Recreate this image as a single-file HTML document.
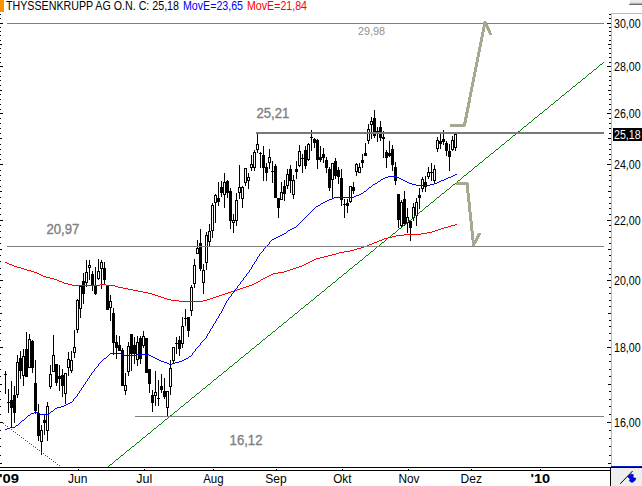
<!DOCTYPE html><html><head><meta charset="utf-8"><title>Chart</title><style>
html,body{margin:0;padding:0;background:#fff;overflow:hidden}svg{display:block}text{font-family:"Liberation Sans",sans-serif;font-size:11px}
</style></head><body>
<svg width="642" height="486" viewBox="0 0 642 486">
<rect width="642" height="486" fill="#fff"/>
<g shape-rendering="crispEdges">
<rect x="5" y="371" width="1" height="23" fill="#000"/>
<rect x="4" y="374" width="3" height="1" fill="#000"/>
<rect x="8" y="389" width="1" height="24" fill="#000"/>
<rect x="7" y="402" width="3" height="1" fill="#000"/>
<rect x="11" y="381" width="1" height="47" fill="#000"/>
<rect x="10" y="400" width="3" height="8" fill="#000"/>
<rect x="14" y="386" width="1" height="37" fill="#000"/>
<rect x="13" y="395" width="3" height="18" fill="#000"/>
<rect x="17" y="355" width="1" height="43" fill="#000"/>
<rect x="16" y="362" width="3" height="33" fill="#000"/>
<rect x="17" y="363" width="1" height="31" fill="#fff"/>
<rect x="20" y="351" width="1" height="28" fill="#000"/>
<rect x="19" y="358" width="3" height="13" fill="#000"/>
<rect x="23" y="349" width="1" height="37" fill="#000"/>
<rect x="22" y="356" width="3" height="20" fill="#000"/>
<rect x="23" y="357" width="1" height="18" fill="#fff"/>
<rect x="26" y="332" width="1" height="45" fill="#000"/>
<rect x="25" y="349" width="3" height="28" fill="#000"/>
<rect x="29" y="334" width="1" height="34" fill="#000"/>
<rect x="28" y="339" width="3" height="29" fill="#000"/>
<rect x="29" y="340" width="1" height="27" fill="#fff"/>
<rect x="32" y="340" width="1" height="33" fill="#000"/>
<rect x="31" y="341" width="3" height="27" fill="#000"/>
<rect x="35" y="360" width="1" height="54" fill="#000"/>
<rect x="34" y="383" width="3" height="28" fill="#000"/>
<rect x="38" y="404" width="1" height="37" fill="#000"/>
<rect x="37" y="413" width="3" height="23" fill="#000"/>
<rect x="41" y="425" width="1" height="30" fill="#000"/>
<rect x="40" y="430" width="3" height="12" fill="#000"/>
<rect x="41" y="431" width="1" height="10" fill="#fff"/>
<rect x="44" y="414" width="1" height="21" fill="#000"/>
<rect x="43" y="420" width="3" height="3" fill="#000"/>
<rect x="47" y="402" width="1" height="39" fill="#000"/>
<rect x="46" y="406" width="3" height="25" fill="#000"/>
<rect x="47" y="407" width="1" height="23" fill="#fff"/>
<rect x="50" y="365" width="1" height="24" fill="#000"/>
<rect x="49" y="374" width="3" height="13" fill="#000"/>
<rect x="50" y="375" width="1" height="11" fill="#fff"/>
<rect x="53" y="335" width="1" height="37" fill="#000"/>
<rect x="52" y="355" width="3" height="17" fill="#000"/>
<rect x="53" y="356" width="1" height="15" fill="#fff"/>
<rect x="56" y="364" width="1" height="22" fill="#000"/>
<rect x="55" y="364" width="3" height="19" fill="#000"/>
<rect x="59" y="365" width="1" height="26" fill="#000"/>
<rect x="58" y="376" width="3" height="3" fill="#000"/>
<rect x="62" y="369" width="1" height="28" fill="#000"/>
<rect x="61" y="375" width="3" height="11" fill="#000"/>
<rect x="65" y="373" width="1" height="31" fill="#000"/>
<rect x="64" y="373" width="3" height="21" fill="#000"/>
<rect x="65" y="374" width="1" height="19" fill="#fff"/>
<rect x="68" y="352" width="1" height="24" fill="#000"/>
<rect x="67" y="359" width="3" height="9" fill="#000"/>
<rect x="68" y="360" width="1" height="7" fill="#fff"/>
<rect x="71" y="351" width="1" height="22" fill="#000"/>
<rect x="70" y="360" width="3" height="11" fill="#000"/>
<rect x="71" y="361" width="1" height="9" fill="#fff"/>
<rect x="74" y="330" width="1" height="28" fill="#000"/>
<rect x="73" y="347" width="3" height="6" fill="#000"/>
<rect x="74" y="348" width="1" height="4" fill="#fff"/>
<rect x="77" y="299" width="1" height="34" fill="#000"/>
<rect x="76" y="300" width="3" height="30" fill="#000"/>
<rect x="77" y="301" width="1" height="28" fill="#fff"/>
<rect x="80" y="285" width="1" height="33" fill="#000"/>
<rect x="79" y="286" width="3" height="23" fill="#000"/>
<rect x="80" y="287" width="1" height="21" fill="#fff"/>
<rect x="83" y="273" width="1" height="31" fill="#000"/>
<rect x="82" y="281" width="3" height="13" fill="#000"/>
<rect x="86" y="260" width="1" height="27" fill="#000"/>
<rect x="85" y="272" width="3" height="11" fill="#000"/>
<rect x="86" y="273" width="1" height="9" fill="#fff"/>
<rect x="89" y="260" width="1" height="20" fill="#000"/>
<rect x="88" y="265" width="3" height="3" fill="#000"/>
<rect x="89" y="266" width="1" height="1" fill="#fff"/>
<rect x="92" y="271" width="1" height="20" fill="#000"/>
<rect x="91" y="274" width="3" height="12" fill="#000"/>
<rect x="95" y="267" width="1" height="28" fill="#000"/>
<rect x="94" y="286" width="3" height="8" fill="#000"/>
<rect x="98" y="259" width="1" height="21" fill="#000"/>
<rect x="97" y="271" width="3" height="8" fill="#000"/>
<rect x="98" y="272" width="1" height="6" fill="#fff"/>
<rect x="101" y="260" width="1" height="29" fill="#000"/>
<rect x="100" y="262" width="3" height="7" fill="#000"/>
<rect x="101" y="263" width="1" height="5" fill="#fff"/>
<rect x="104" y="262" width="1" height="22" fill="#000"/>
<rect x="103" y="268" width="3" height="12" fill="#000"/>
<rect x="107" y="286" width="1" height="24" fill="#000"/>
<rect x="106" y="286" width="3" height="24" fill="#000"/>
<rect x="110" y="295" width="1" height="26" fill="#000"/>
<rect x="109" y="301" width="3" height="7" fill="#000"/>
<rect x="110" y="302" width="1" height="5" fill="#fff"/>
<rect x="113" y="308" width="1" height="47" fill="#000"/>
<rect x="112" y="313" width="3" height="30" fill="#000"/>
<rect x="116" y="335" width="1" height="24" fill="#000"/>
<rect x="115" y="342" width="3" height="6" fill="#000"/>
<rect x="119" y="336" width="1" height="15" fill="#000"/>
<rect x="118" y="345" width="3" height="6" fill="#000"/>
<rect x="122" y="348" width="1" height="38" fill="#000"/>
<rect x="121" y="350" width="3" height="36" fill="#000"/>
<rect x="125" y="373" width="1" height="22" fill="#000"/>
<rect x="124" y="385" width="3" height="6" fill="#000"/>
<rect x="125" y="386" width="1" height="4" fill="#fff"/>
<rect x="128" y="342" width="1" height="34" fill="#000"/>
<rect x="127" y="346" width="3" height="26" fill="#000"/>
<rect x="128" y="347" width="1" height="24" fill="#fff"/>
<rect x="131" y="334" width="1" height="37" fill="#000"/>
<rect x="130" y="334" width="3" height="20" fill="#000"/>
<rect x="134" y="337" width="1" height="27" fill="#000"/>
<rect x="133" y="345" width="3" height="9" fill="#000"/>
<rect x="137" y="336" width="1" height="30" fill="#000"/>
<rect x="136" y="342" width="3" height="18" fill="#000"/>
<rect x="137" y="343" width="1" height="16" fill="#fff"/>
<rect x="140" y="336" width="1" height="28" fill="#000"/>
<rect x="139" y="338" width="3" height="21" fill="#000"/>
<rect x="143" y="331" width="1" height="17" fill="#000"/>
<rect x="142" y="336" width="3" height="10" fill="#000"/>
<rect x="143" y="337" width="1" height="8" fill="#fff"/>
<rect x="146" y="338" width="1" height="35" fill="#000"/>
<rect x="145" y="338" width="3" height="35" fill="#000"/>
<rect x="149" y="369" width="1" height="24" fill="#000"/>
<rect x="148" y="369" width="3" height="15" fill="#000"/>
<rect x="152" y="390" width="1" height="22" fill="#000"/>
<rect x="151" y="395" width="3" height="8" fill="#000"/>
<rect x="155" y="371" width="1" height="35" fill="#000"/>
<rect x="154" y="392" width="3" height="4" fill="#000"/>
<rect x="155" y="393" width="1" height="2" fill="#fff"/>
<rect x="158" y="380" width="1" height="26" fill="#000"/>
<rect x="157" y="398" width="3" height="1" fill="#000"/>
<rect x="161" y="374" width="1" height="19" fill="#000"/>
<rect x="160" y="386" width="3" height="4" fill="#000"/>
<rect x="164" y="378" width="1" height="21" fill="#000"/>
<rect x="163" y="391" width="3" height="6" fill="#000"/>
<rect x="167" y="391" width="1" height="26" fill="#000"/>
<rect x="166" y="391" width="3" height="17" fill="#000"/>
<rect x="167" y="392" width="1" height="15" fill="#fff"/>
<rect x="170" y="360" width="1" height="35" fill="#000"/>
<rect x="169" y="368" width="3" height="19" fill="#000"/>
<rect x="170" y="369" width="1" height="17" fill="#fff"/>
<rect x="173" y="347" width="1" height="16" fill="#000"/>
<rect x="172" y="347" width="3" height="14" fill="#000"/>
<rect x="173" y="348" width="1" height="12" fill="#fff"/>
<rect x="176" y="337" width="1" height="17" fill="#000"/>
<rect x="175" y="343" width="3" height="1" fill="#000"/>
<rect x="179" y="336" width="1" height="20" fill="#000"/>
<rect x="178" y="340" width="3" height="9" fill="#000"/>
<rect x="182" y="317" width="1" height="31" fill="#000"/>
<rect x="181" y="326" width="3" height="18" fill="#000"/>
<rect x="182" y="327" width="1" height="16" fill="#fff"/>
<rect x="185" y="309" width="1" height="17" fill="#000"/>
<rect x="184" y="318" width="3" height="1" fill="#000"/>
<rect x="188" y="317" width="1" height="20" fill="#000"/>
<rect x="187" y="317" width="3" height="14" fill="#000"/>
<rect x="191" y="285" width="1" height="31" fill="#000"/>
<rect x="190" y="287" width="3" height="24" fill="#000"/>
<rect x="191" y="288" width="1" height="22" fill="#fff"/>
<rect x="194" y="259" width="1" height="29" fill="#000"/>
<rect x="193" y="265" width="3" height="19" fill="#000"/>
<rect x="194" y="266" width="1" height="17" fill="#fff"/>
<rect x="197" y="240" width="1" height="14" fill="#000"/>
<rect x="196" y="248" width="3" height="6" fill="#000"/>
<rect x="197" y="249" width="1" height="4" fill="#fff"/>
<rect x="200" y="229" width="1" height="42" fill="#000"/>
<rect x="199" y="243" width="3" height="26" fill="#000"/>
<rect x="203" y="264" width="1" height="30" fill="#000"/>
<rect x="202" y="270" width="3" height="13" fill="#000"/>
<rect x="203" y="271" width="1" height="11" fill="#fff"/>
<rect x="206" y="232" width="1" height="38" fill="#000"/>
<rect x="205" y="235" width="3" height="28" fill="#000"/>
<rect x="206" y="236" width="1" height="26" fill="#fff"/>
<rect x="209" y="224" width="1" height="22" fill="#000"/>
<rect x="208" y="231" width="3" height="11" fill="#000"/>
<rect x="209" y="232" width="1" height="9" fill="#fff"/>
<rect x="212" y="203" width="1" height="35" fill="#000"/>
<rect x="211" y="205" width="3" height="26" fill="#000"/>
<rect x="212" y="206" width="1" height="24" fill="#fff"/>
<rect x="215" y="194" width="1" height="29" fill="#000"/>
<rect x="214" y="195" width="3" height="8" fill="#000"/>
<rect x="215" y="196" width="1" height="6" fill="#fff"/>
<rect x="218" y="182" width="1" height="24" fill="#000"/>
<rect x="217" y="198" width="3" height="4" fill="#000"/>
<rect x="221" y="181" width="1" height="16" fill="#000"/>
<rect x="220" y="187" width="3" height="6" fill="#000"/>
<rect x="224" y="173" width="1" height="35" fill="#000"/>
<rect x="223" y="182" width="3" height="13" fill="#000"/>
<rect x="224" y="183" width="1" height="11" fill="#fff"/>
<rect x="227" y="180" width="1" height="18" fill="#000"/>
<rect x="226" y="181" width="3" height="12" fill="#000"/>
<rect x="230" y="188" width="1" height="41" fill="#000"/>
<rect x="229" y="191" width="3" height="30" fill="#000"/>
<rect x="233" y="214" width="1" height="19" fill="#000"/>
<rect x="232" y="220" width="3" height="3" fill="#000"/>
<rect x="233" y="221" width="1" height="1" fill="#fff"/>
<rect x="236" y="193" width="1" height="33" fill="#000"/>
<rect x="235" y="200" width="3" height="21" fill="#000"/>
<rect x="236" y="201" width="1" height="19" fill="#fff"/>
<rect x="239" y="165" width="1" height="34" fill="#000"/>
<rect x="238" y="187" width="3" height="6" fill="#000"/>
<rect x="239" y="188" width="1" height="4" fill="#fff"/>
<rect x="242" y="186" width="1" height="22" fill="#000"/>
<rect x="241" y="187" width="3" height="12" fill="#000"/>
<rect x="242" y="188" width="1" height="10" fill="#fff"/>
<rect x="245" y="168" width="1" height="18" fill="#000"/>
<rect x="244" y="168" width="3" height="15" fill="#000"/>
<rect x="245" y="169" width="1" height="13" fill="#fff"/>
<rect x="248" y="173" width="1" height="16" fill="#000"/>
<rect x="247" y="177" width="3" height="4" fill="#000"/>
<rect x="248" y="178" width="1" height="2" fill="#fff"/>
<rect x="251" y="155" width="1" height="16" fill="#000"/>
<rect x="250" y="164" width="3" height="4" fill="#000"/>
<rect x="251" y="165" width="1" height="2" fill="#fff"/>
<rect x="254" y="150" width="1" height="21" fill="#000"/>
<rect x="253" y="152" width="3" height="16" fill="#000"/>
<rect x="254" y="153" width="1" height="14" fill="#fff"/>
<rect x="257" y="133" width="1" height="20" fill="#000"/>
<rect x="256" y="144" width="3" height="6" fill="#000"/>
<rect x="257" y="145" width="1" height="4" fill="#fff"/>
<rect x="260" y="152" width="1" height="16" fill="#000"/>
<rect x="259" y="153" width="3" height="1" fill="#000"/>
<rect x="263" y="146" width="1" height="35" fill="#000"/>
<rect x="262" y="155" width="3" height="13" fill="#000"/>
<rect x="266" y="163" width="1" height="18" fill="#000"/>
<rect x="265" y="167" width="3" height="6" fill="#000"/>
<rect x="269" y="149" width="1" height="20" fill="#000"/>
<rect x="268" y="157" width="3" height="6" fill="#000"/>
<rect x="269" y="158" width="1" height="4" fill="#fff"/>
<rect x="272" y="161" width="1" height="22" fill="#000"/>
<rect x="271" y="171" width="3" height="1" fill="#000"/>
<rect x="275" y="164" width="1" height="34" fill="#000"/>
<rect x="274" y="166" width="3" height="32" fill="#000"/>
<rect x="278" y="198" width="1" height="20" fill="#000"/>
<rect x="277" y="198" width="3" height="10" fill="#000"/>
<rect x="281" y="182" width="1" height="18" fill="#000"/>
<rect x="280" y="192" width="3" height="8" fill="#000"/>
<rect x="281" y="193" width="1" height="6" fill="#fff"/>
<rect x="284" y="180" width="1" height="21" fill="#000"/>
<rect x="283" y="186" width="3" height="8" fill="#000"/>
<rect x="287" y="169" width="1" height="20" fill="#000"/>
<rect x="286" y="174" width="3" height="12" fill="#000"/>
<rect x="287" y="175" width="1" height="10" fill="#fff"/>
<rect x="290" y="165" width="1" height="28" fill="#000"/>
<rect x="289" y="169" width="3" height="12" fill="#000"/>
<rect x="293" y="175" width="1" height="24" fill="#000"/>
<rect x="292" y="180" width="3" height="15" fill="#000"/>
<rect x="293" y="181" width="1" height="13" fill="#fff"/>
<rect x="296" y="161" width="1" height="18" fill="#000"/>
<rect x="295" y="169" width="3" height="3" fill="#000"/>
<rect x="299" y="145" width="1" height="22" fill="#000"/>
<rect x="298" y="151" width="3" height="15" fill="#000"/>
<rect x="299" y="152" width="1" height="13" fill="#fff"/>
<rect x="302" y="154" width="1" height="19" fill="#000"/>
<rect x="301" y="158" width="3" height="1" fill="#000"/>
<rect x="305" y="146" width="1" height="23" fill="#000"/>
<rect x="304" y="150" width="3" height="16" fill="#000"/>
<rect x="308" y="143" width="1" height="18" fill="#000"/>
<rect x="307" y="144" width="3" height="16" fill="#000"/>
<rect x="308" y="145" width="1" height="14" fill="#fff"/>
<rect x="311" y="130" width="1" height="21" fill="#000"/>
<rect x="310" y="137" width="3" height="1" fill="#000"/>
<rect x="314" y="138" width="1" height="10" fill="#000"/>
<rect x="313" y="139" width="3" height="4" fill="#000"/>
<rect x="317" y="139" width="1" height="30" fill="#000"/>
<rect x="316" y="140" width="3" height="20" fill="#000"/>
<rect x="320" y="146" width="1" height="16" fill="#000"/>
<rect x="319" y="157" width="3" height="3" fill="#000"/>
<rect x="323" y="148" width="1" height="15" fill="#000"/>
<rect x="322" y="154" width="3" height="4" fill="#000"/>
<rect x="326" y="157" width="1" height="16" fill="#000"/>
<rect x="325" y="160" width="3" height="8" fill="#000"/>
<rect x="329" y="167" width="1" height="24" fill="#000"/>
<rect x="328" y="169" width="3" height="19" fill="#000"/>
<rect x="332" y="163" width="1" height="35" fill="#000"/>
<rect x="331" y="163" width="3" height="17" fill="#000"/>
<rect x="332" y="164" width="1" height="15" fill="#fff"/>
<rect x="335" y="158" width="1" height="21" fill="#000"/>
<rect x="334" y="161" width="3" height="15" fill="#000"/>
<rect x="338" y="167" width="1" height="17" fill="#000"/>
<rect x="337" y="170" width="3" height="7" fill="#000"/>
<rect x="341" y="169" width="1" height="37" fill="#000"/>
<rect x="340" y="178" width="3" height="22" fill="#000"/>
<rect x="344" y="199" width="1" height="19" fill="#000"/>
<rect x="343" y="204" width="3" height="1" fill="#000"/>
<rect x="347" y="199" width="1" height="14" fill="#000"/>
<rect x="346" y="203" width="3" height="3" fill="#000"/>
<rect x="350" y="186" width="1" height="17" fill="#000"/>
<rect x="349" y="186" width="3" height="16" fill="#000"/>
<rect x="350" y="187" width="1" height="14" fill="#fff"/>
<rect x="353" y="182" width="1" height="12" fill="#000"/>
<rect x="352" y="187" width="3" height="4" fill="#000"/>
<rect x="356" y="163" width="1" height="13" fill="#000"/>
<rect x="355" y="164" width="3" height="8" fill="#000"/>
<rect x="356" y="165" width="1" height="6" fill="#fff"/>
<rect x="359" y="163" width="1" height="10" fill="#000"/>
<rect x="358" y="167" width="3" height="6" fill="#000"/>
<rect x="359" y="168" width="1" height="4" fill="#fff"/>
<rect x="362" y="154" width="1" height="14" fill="#000"/>
<rect x="361" y="160" width="3" height="3" fill="#000"/>
<rect x="365" y="143" width="1" height="13" fill="#000"/>
<rect x="364" y="153" width="3" height="3" fill="#000"/>
<rect x="368" y="124" width="1" height="20" fill="#000"/>
<rect x="367" y="129" width="3" height="12" fill="#000"/>
<rect x="368" y="130" width="1" height="10" fill="#fff"/>
<rect x="371" y="117" width="1" height="22" fill="#000"/>
<rect x="370" y="121" width="3" height="4" fill="#000"/>
<rect x="371" y="122" width="1" height="2" fill="#fff"/>
<rect x="374" y="110" width="1" height="28" fill="#000"/>
<rect x="373" y="118" width="3" height="18" fill="#000"/>
<rect x="377" y="127" width="1" height="15" fill="#000"/>
<rect x="376" y="131" width="3" height="1" fill="#000"/>
<rect x="380" y="121" width="1" height="20" fill="#000"/>
<rect x="379" y="127" width="3" height="11" fill="#000"/>
<rect x="383" y="131" width="1" height="27" fill="#000"/>
<rect x="382" y="137" width="3" height="2" fill="#000"/>
<rect x="386" y="150" width="1" height="18" fill="#000"/>
<rect x="385" y="152" width="3" height="6" fill="#000"/>
<rect x="389" y="141" width="1" height="16" fill="#000"/>
<rect x="388" y="153" width="3" height="3" fill="#000"/>
<rect x="392" y="145" width="1" height="26" fill="#000"/>
<rect x="391" y="149" width="3" height="16" fill="#000"/>
<rect x="395" y="162" width="1" height="23" fill="#000"/>
<rect x="394" y="167" width="3" height="14" fill="#000"/>
<rect x="398" y="194" width="1" height="34" fill="#000"/>
<rect x="397" y="194" width="3" height="26" fill="#000"/>
<rect x="401" y="200" width="1" height="28" fill="#000"/>
<rect x="400" y="202" width="3" height="24" fill="#000"/>
<rect x="401" y="203" width="1" height="22" fill="#fff"/>
<rect x="404" y="191" width="1" height="35" fill="#000"/>
<rect x="403" y="199" width="3" height="25" fill="#000"/>
<rect x="407" y="208" width="1" height="25" fill="#000"/>
<rect x="406" y="217" width="3" height="6" fill="#000"/>
<rect x="407" y="218" width="1" height="4" fill="#fff"/>
<rect x="410" y="220" width="1" height="21" fill="#000"/>
<rect x="409" y="221" width="3" height="7" fill="#000"/>
<rect x="413" y="203" width="1" height="18" fill="#000"/>
<rect x="412" y="207" width="3" height="11" fill="#000"/>
<rect x="413" y="208" width="1" height="9" fill="#fff"/>
<rect x="416" y="198" width="1" height="28" fill="#000"/>
<rect x="415" y="202" width="3" height="14" fill="#000"/>
<rect x="416" y="203" width="1" height="12" fill="#fff"/>
<rect x="419" y="188" width="1" height="21" fill="#000"/>
<rect x="418" y="195" width="3" height="3" fill="#000"/>
<rect x="422" y="177" width="1" height="15" fill="#000"/>
<rect x="421" y="179" width="3" height="10" fill="#000"/>
<rect x="422" y="180" width="1" height="8" fill="#fff"/>
<rect x="425" y="176" width="1" height="16" fill="#000"/>
<rect x="424" y="182" width="3" height="5" fill="#000"/>
<rect x="428" y="167" width="1" height="12" fill="#000"/>
<rect x="427" y="172" width="3" height="5" fill="#000"/>
<rect x="428" y="173" width="1" height="3" fill="#fff"/>
<rect x="431" y="163" width="1" height="18" fill="#000"/>
<rect x="430" y="172" width="3" height="1" fill="#000"/>
<rect x="434" y="165" width="1" height="19" fill="#000"/>
<rect x="433" y="169" width="3" height="12" fill="#000"/>
<rect x="434" y="170" width="1" height="10" fill="#fff"/>
<rect x="437" y="137" width="1" height="15" fill="#000"/>
<rect x="436" y="140" width="3" height="9" fill="#000"/>
<rect x="437" y="141" width="1" height="7" fill="#fff"/>
<rect x="440" y="133" width="1" height="16" fill="#000"/>
<rect x="439" y="141" width="3" height="3" fill="#000"/>
<rect x="443" y="130" width="1" height="15" fill="#000"/>
<rect x="442" y="139" width="3" height="3" fill="#000"/>
<rect x="446" y="141" width="1" height="15" fill="#000"/>
<rect x="445" y="143" width="3" height="8" fill="#000"/>
<rect x="449" y="144" width="1" height="27" fill="#000"/>
<rect x="448" y="151" width="3" height="6" fill="#000"/>
<rect x="452" y="136" width="1" height="15" fill="#000"/>
<rect x="451" y="140" width="3" height="10" fill="#000"/>
<rect x="452" y="141" width="1" height="8" fill="#fff"/>
<rect x="455" y="134" width="1" height="17" fill="#000"/>
<rect x="454" y="134" width="3" height="14" fill="#000"/>
<rect x="455" y="135" width="1" height="12" fill="#fff"/>
</g>
<path shape-rendering="crispEdges" fill="#ff0000" d="M455 224h2v1h-2zM451 225h4v1h-4zM448 226h3v1h-3zM444 227h4v1h-4zM441 228h3v1h-3zM438 229h3v1h-3zM435 230h3v1h-3zM432 231h3v1h-3zM427 232h5v1h-5zM421 233h6v1h-6zM404 234h17v1h-17zM396 235h8v1h-8zM392 236h4v1h-4zM388 237h4v1h-4zM384 238h4v1h-4zM382 239h2v1h-2zM379 240h3v1h-3zM377 241h2v1h-2zM374 242h3v1h-3zM372 243h2v1h-2zM369 244h3v1h-3zM367 245h2v1h-2zM364 246h3v1h-3zM361 247h3v1h-3zM357 248h4v1h-4zM354 249h3v1h-3zM350 250h4v1h-4zM344 251h6v1h-6zM339 252h5v1h-5zM336 253h3v1h-3zM332 254h4v1h-4zM328 255h4v1h-4zM324 256h4v1h-4zM320 257h4v1h-4zM316 258h4v1h-4zM314 259h2v1h-2zM312 260h2v1h-2zM310 261h2v1h-2zM5 262h2v1h-2zM308 262h2v1h-2zM7 263h2v1h-2zM306 263h2v1h-2zM9 264h3v1h-3zM304 264h2v1h-2zM12 265h2v1h-2zM302 265h2v1h-2zM14 266h3v1h-3zM299 266h3v1h-3zM17 267h4v1h-4zM296 267h3v1h-3zM21 268h3v1h-3zM293 268h3v1h-3zM24 269h3v1h-3zM290 269h3v1h-3zM27 270h4v1h-4zM287 270h3v1h-3zM31 271h3v1h-3zM284 271h3v1h-3zM34 272h3v1h-3zM278 272h6v1h-6zM37 273h2v1h-2zM273 273h5v1h-5zM39 274h2v1h-2zM271 274h2v1h-2zM41 275h2v1h-2zM269 275h2v1h-2zM43 276h3v1h-3zM267 276h2v1h-2zM46 277h4v1h-4zM265 277h2v1h-2zM50 278h4v1h-4zM263 278h2v1h-2zM54 279h3v1h-3zM261 279h2v1h-2zM57 280h2v1h-2zM260 280h1v1h-1zM59 281h3v1h-3zM258 281h2v1h-2zM62 282h2v1h-2zM256 282h2v1h-2zM64 283h4v1h-4zM254 283h2v1h-2zM68 284h4v1h-4zM100 284h6v1h-6zM252 284h2v1h-2zM72 285h28v1h-28zM106 285h9v1h-9zM249 285h3v1h-3zM115 286h3v1h-3zM246 286h3v1h-3zM118 287h5v1h-5zM243 287h3v1h-3zM123 288h5v1h-5zM240 288h3v1h-3zM128 289h5v1h-5zM237 289h3v1h-3zM133 290h5v1h-5zM234 290h3v1h-3zM138 291h5v1h-5zM231 291h3v1h-3zM143 292h5v1h-5zM228 292h3v1h-3zM148 293h4v1h-4zM225 293h3v1h-3zM152 294h3v1h-3zM222 294h3v1h-3zM155 295h3v1h-3zM219 295h3v1h-3zM158 296h3v1h-3zM216 296h3v1h-3zM161 297h3v1h-3zM213 297h3v1h-3zM164 298h3v1h-3zM210 298h3v1h-3zM167 299h4v1h-4zM207 299h3v1h-3zM171 300h8v1h-8zM203 300h4v1h-4zM179 301h24v1h-24z"/>
<path shape-rendering="crispEdges" fill="#0000ff" d="M455 174h2v1h-2zM453 175h2v1h-2zM388 176h9v1h-9zM451 176h2v1h-2zM385 177h3v1h-3zM397 177h2v1h-2zM448 177h3v1h-3zM383 178h2v1h-2zM399 178h2v1h-2zM446 178h2v1h-2zM381 179h2v1h-2zM401 179h2v1h-2zM444 179h2v1h-2zM380 180h1v1h-1zM403 180h2v1h-2zM441 180h3v1h-3zM378 181h2v1h-2zM405 181h2v1h-2zM439 181h2v1h-2zM377 182h1v1h-1zM407 182h2v1h-2zM437 182h2v1h-2zM375 183h2v1h-2zM409 183h3v1h-3zM434 183h3v1h-3zM373 184h2v1h-2zM412 184h4v1h-4zM430 184h4v1h-4zM372 185h1v1h-1zM416 185h14v1h-14zM371 186h1v1h-1zM369 187h2v1h-2zM368 188h1v1h-1zM367 189h1v1h-1zM366 190h1v1h-1zM364 191h2v1h-2zM363 192h1v1h-1zM361 193h2v1h-2zM359 194h2v1h-2zM356 195h3v1h-3zM354 196h2v1h-2zM334 197h20v1h-20zM332 198h2v1h-2zM329 199h3v1h-3zM327 200h2v1h-2zM325 201h2v1h-2zM323 202h2v1h-2zM321 203h2v1h-2zM320 204h1v1h-1zM318 205h2v1h-2zM316 206h2v1h-2zM315 207h1v1h-1zM314 208h1v1h-1zM313 209h1v1h-1zM312 210h1v1h-1zM311 211h1v1h-1zM310 212h1v1h-1zM309 213h1v1h-1zM308 214h1v1h-1zM307 215h1v1h-1zM306 216h1v1h-1zM305 217h1v1h-1zM304 218h1v1h-1zM303 219h1v1h-1zM302 220h1v1h-1zM301 221h1v1h-1zM300 222h1v1h-1zM299 223h1v1h-1zM298 224h1v1h-1zM297 225h1v1h-1zM296 226h1v1h-1zM294 227h2v1h-2zM292 228h2v1h-2zM290 229h2v1h-2zM288 230h2v1h-2zM287 231h1v1h-1zM286 232h1v1h-1zM284 233h2v1h-2zM282 234h2v1h-2zM280 235h2v1h-2zM278 236h2v1h-2zM276 237h2v1h-2zM274 238h2v1h-2zM272 239h2v1h-2zM271 240h1v1h-1zM270 241h1v1h-1zM269 242h1v1h-1zM269 243h1v1h-1zM268 244h1v1h-1zM267 245h1v1h-1zM266 246h1v1h-1zM265 247h1v1h-1zM264 248h1v1h-1zM263 249h1v1h-1zM263 250h1v1h-1zM262 251h1v1h-1zM261 252h1v1h-1zM260 253h1v1h-1zM259 254h1v1h-1zM259 255h1v1h-1zM258 256h1v1h-1zM257 257h1v1h-1zM257 258h1v1h-1zM256 259h1v1h-1zM256 260h1v1h-1zM255 261h1v1h-1zM254 262h1v1h-1zM254 263h1v1h-1zM253 264h1v1h-1zM252 265h1v1h-1zM252 266h1v1h-1zM251 267h1v1h-1zM251 268h1v1h-1zM250 269h1v1h-1zM249 270h1v1h-1zM249 271h1v1h-1zM248 272h1v1h-1zM247 273h1v1h-1zM246 274h1v1h-1zM246 275h1v1h-1zM245 276h1v1h-1zM244 277h1v1h-1zM243 278h1v1h-1zM243 279h1v1h-1zM242 280h1v1h-1zM241 281h1v1h-1zM240 282h1v1h-1zM240 283h1v1h-1zM239 284h1v1h-1zM238 285h1v1h-1zM237 286h1v1h-1zM237 287h1v1h-1zM236 288h1v1h-1zM235 289h1v1h-1zM234 290h1v1h-1zM234 291h1v1h-1zM233 292h1v1h-1zM232 293h1v1h-1zM231 294h1v1h-1zM231 295h1v1h-1zM230 296h1v1h-1zM229 297h1v1h-1zM228 298h1v1h-1zM228 299h1v1h-1zM227 300h1v1h-1zM226 301h1v1h-1zM226 302h1v1h-1zM225 303h1v1h-1zM225 304h1v1h-1zM224 305h1v1h-1zM224 306h1v1h-1zM223 307h1v1h-1zM223 308h1v1h-1zM222 309h1v1h-1zM222 310h1v1h-1zM221 311h1v1h-1zM221 312h1v1h-1zM220 313h1v1h-1zM219 314h1v1h-1zM219 315h1v1h-1zM218 316h1v1h-1zM218 317h1v1h-1zM217 318h1v1h-1zM216 319h1v1h-1zM216 320h1v1h-1zM215 321h1v1h-1zM215 322h1v1h-1zM214 323h1v1h-1zM213 324h1v1h-1zM213 325h1v1h-1zM212 326h1v1h-1zM212 327h1v1h-1zM211 328h1v1h-1zM210 329h1v1h-1zM210 330h1v1h-1zM209 331h1v1h-1zM209 332h1v1h-1zM208 333h1v1h-1zM207 334h1v1h-1zM207 335h1v1h-1zM206 336h1v1h-1zM206 337h1v1h-1zM205 338h1v1h-1zM204 339h1v1h-1zM203 340h1v1h-1zM202 341h1v1h-1zM201 342h1v1h-1zM200 343h1v1h-1zM200 344h1v1h-1zM199 345h1v1h-1zM198 346h1v1h-1zM197 347h1v1h-1zM196 348h1v1h-1zM195 349h1v1h-1zM195 350h1v1h-1zM194 351h1v1h-1zM193 352h1v1h-1zM110 353h11v1h-11zM192 353h1v1h-1zM109 354h1v1h-1zM121 354h2v1h-2zM137 354h12v1h-12zM192 354h1v1h-1zM108 355h1v1h-1zM123 355h14v1h-14zM149 355h2v1h-2zM191 355h1v1h-1zM107 356h1v1h-1zM151 356h2v1h-2zM189 356h2v1h-2zM106 357h1v1h-1zM153 357h2v1h-2zM188 357h1v1h-1zM104 358h2v1h-2zM155 358h2v1h-2zM186 358h2v1h-2zM103 359h1v1h-1zM157 359h2v1h-2zM184 359h2v1h-2zM102 360h1v1h-1zM159 360h2v1h-2zM182 360h2v1h-2zM101 361h1v1h-1zM161 361h3v1h-3zM179 361h3v1h-3zM100 362h1v1h-1zM164 362h3v1h-3zM175 362h4v1h-4zM99 363h1v1h-1zM167 363h2v1h-2zM172 363h3v1h-3zM98 364h1v1h-1zM169 364h3v1h-3zM98 365h1v1h-1zM97 366h1v1h-1zM96 367h1v1h-1zM95 368h1v1h-1zM94 369h1v1h-1zM94 370h1v1h-1zM93 371h1v1h-1zM92 372h1v1h-1zM91 373h1v1h-1zM91 374h1v1h-1zM90 375h1v1h-1zM89 376h1v1h-1zM89 377h1v1h-1zM88 378h1v1h-1zM87 379h1v1h-1zM87 380h1v1h-1zM86 381h1v1h-1zM85 382h1v1h-1zM85 383h1v1h-1zM84 384h1v1h-1zM83 385h1v1h-1zM83 386h1v1h-1zM82 387h1v1h-1zM81 388h1v1h-1zM81 389h1v1h-1zM80 390h1v1h-1zM79 391h1v1h-1zM79 392h1v1h-1zM78 393h1v1h-1zM77 394h1v1h-1zM77 395h1v1h-1zM76 396h1v1h-1zM75 397h1v1h-1zM74 398h1v1h-1zM73 399h1v1h-1zM73 400h1v1h-1zM72 401h1v1h-1zM70 402h2v1h-2zM68 403h2v1h-2zM66 404h2v1h-2zM64 405h2v1h-2zM61 406h3v1h-3zM57 407h4v1h-4zM55 408h2v1h-2zM54 409h1v1h-1zM53 410h1v1h-1zM51 411h2v1h-2zM34 412h4v1h-4zM50 412h1v1h-1zM31 413h3v1h-3zM38 413h2v1h-2zM49 413h1v1h-1zM30 414h1v1h-1zM40 414h9v1h-9zM28 415h2v1h-2zM27 416h1v1h-1zM26 417h1v1h-1zM25 418h1v1h-1zM24 419h1v1h-1zM22 420h2v1h-2zM21 421h1v1h-1zM20 422h1v1h-1zM19 423h1v1h-1zM18 424h1v1h-1zM16 425h2v1h-2zM15 426h1v1h-1zM10 427h5v1h-5zM7 428h3v1h-3zM5 429h2v1h-2z"/>
<path shape-rendering="crispEdges" fill="#008000" d="M603 62h1v1h-1zM602 63h1v1h-1zM600 64h2v1h-2zM599 65h1v1h-1zM598 66h1v1h-1zM597 67h1v1h-1zM596 68h1v1h-1zM594 69h2v1h-2zM593 70h1v1h-1zM592 71h1v1h-1zM591 72h1v1h-1zM589 73h2v1h-2zM588 74h1v1h-1zM587 75h1v1h-1zM586 76h1v1h-1zM585 77h1v1h-1zM583 78h2v1h-2zM582 79h1v1h-1zM581 80h1v1h-1zM580 81h1v1h-1zM578 82h2v1h-2zM577 83h1v1h-1zM576 84h1v1h-1zM575 85h1v1h-1zM573 86h2v1h-2zM572 87h1v1h-1zM571 88h1v1h-1zM570 89h1v1h-1zM569 90h1v1h-1zM567 91h2v1h-2zM566 92h1v1h-1zM565 93h1v1h-1zM564 94h1v1h-1zM562 95h2v1h-2zM561 96h1v1h-1zM560 97h1v1h-1zM559 98h1v1h-1zM558 99h1v1h-1zM556 100h2v1h-2zM555 101h1v1h-1zM554 102h1v1h-1zM553 103h1v1h-1zM551 104h2v1h-2zM550 105h1v1h-1zM549 106h1v1h-1zM548 107h1v1h-1zM547 108h1v1h-1zM545 109h2v1h-2zM544 110h1v1h-1zM543 111h1v1h-1zM542 112h1v1h-1zM540 113h2v1h-2zM539 114h1v1h-1zM538 115h1v1h-1zM537 116h1v1h-1zM535 117h2v1h-2zM534 118h1v1h-1zM533 119h1v1h-1zM532 120h1v1h-1zM531 121h1v1h-1zM529 122h2v1h-2zM528 123h1v1h-1zM527 124h1v1h-1zM526 125h1v1h-1zM524 126h2v1h-2zM523 127h1v1h-1zM522 128h1v1h-1zM521 129h1v1h-1zM520 130h1v1h-1zM518 131h2v1h-2zM517 132h1v1h-1zM516 133h1v1h-1zM515 134h1v1h-1zM513 135h2v1h-2zM512 136h1v1h-1zM511 137h1v1h-1zM510 138h1v1h-1zM509 139h1v1h-1zM507 140h2v1h-2zM506 141h1v1h-1zM505 142h1v1h-1zM504 143h1v1h-1zM502 144h2v1h-2zM501 145h1v1h-1zM500 146h1v1h-1zM499 147h1v1h-1zM498 148h1v1h-1zM496 149h2v1h-2zM495 150h1v1h-1zM494 151h1v1h-1zM493 152h1v1h-1zM491 153h2v1h-2zM490 154h1v1h-1zM489 155h1v1h-1zM488 156h1v1h-1zM486 157h2v1h-2zM485 158h1v1h-1zM484 159h1v1h-1zM483 160h1v1h-1zM482 161h1v1h-1zM480 162h2v1h-2zM479 163h1v1h-1zM478 164h1v1h-1zM477 165h1v1h-1zM475 166h2v1h-2zM474 167h1v1h-1zM473 168h1v1h-1zM472 169h1v1h-1zM471 170h1v1h-1zM469 171h2v1h-2zM468 172h1v1h-1zM467 173h1v1h-1zM466 174h1v1h-1zM464 175h2v1h-2zM463 176h1v1h-1zM462 177h1v1h-1zM461 178h1v1h-1zM460 179h1v1h-1zM458 180h2v1h-2zM457 181h1v1h-1zM456 182h1v1h-1zM455 183h1v1h-1zM453 184h2v1h-2zM452 185h1v1h-1zM451 186h1v1h-1zM450 187h1v1h-1zM449 188h1v1h-1zM447 189h2v1h-2zM446 190h1v1h-1zM445 191h1v1h-1zM444 192h1v1h-1zM442 193h2v1h-2zM441 194h1v1h-1zM440 195h1v1h-1zM439 196h1v1h-1zM437 197h2v1h-2zM436 198h1v1h-1zM435 199h1v1h-1zM434 200h1v1h-1zM433 201h1v1h-1zM431 202h2v1h-2zM430 203h1v1h-1zM429 204h1v1h-1zM428 205h1v1h-1zM426 206h2v1h-2zM425 207h1v1h-1zM424 208h1v1h-1zM423 209h1v1h-1zM422 210h1v1h-1zM420 211h2v1h-2zM419 212h1v1h-1zM418 213h1v1h-1zM417 214h1v1h-1zM415 215h2v1h-2zM414 216h1v1h-1zM413 217h1v1h-1zM412 218h1v1h-1zM411 219h1v1h-1zM409 220h2v1h-2zM408 221h1v1h-1zM407 222h1v1h-1zM406 223h1v1h-1zM404 224h2v1h-2zM403 225h1v1h-1zM402 226h1v1h-1zM401 227h1v1h-1zM399 228h2v1h-2zM398 229h1v1h-1zM397 230h1v1h-1zM396 231h1v1h-1zM395 232h1v1h-1zM393 233h2v1h-2zM392 234h1v1h-1zM391 235h1v1h-1zM390 236h1v1h-1zM388 237h2v1h-2zM387 238h1v1h-1zM386 239h1v1h-1zM385 240h1v1h-1zM384 241h1v1h-1zM382 242h2v1h-2zM381 243h1v1h-1zM380 244h1v1h-1zM379 245h1v1h-1zM377 246h2v1h-2zM376 247h1v1h-1zM375 248h1v1h-1zM374 249h1v1h-1zM373 250h1v1h-1zM371 251h2v1h-2zM370 252h1v1h-1zM369 253h1v1h-1zM368 254h1v1h-1zM366 255h2v1h-2zM365 256h1v1h-1zM364 257h1v1h-1zM363 258h1v1h-1zM362 259h1v1h-1zM360 260h2v1h-2zM359 261h1v1h-1zM358 262h1v1h-1zM357 263h1v1h-1zM355 264h2v1h-2zM354 265h1v1h-1zM353 266h1v1h-1zM352 267h1v1h-1zM350 268h2v1h-2zM349 269h1v1h-1zM348 270h1v1h-1zM347 271h1v1h-1zM346 272h1v1h-1zM344 273h2v1h-2zM343 274h1v1h-1zM342 275h1v1h-1zM341 276h1v1h-1zM339 277h2v1h-2zM338 278h1v1h-1zM337 279h1v1h-1zM336 280h1v1h-1zM335 281h1v1h-1zM333 282h2v1h-2zM332 283h1v1h-1zM331 284h1v1h-1zM330 285h1v1h-1zM328 286h2v1h-2zM327 287h1v1h-1zM326 288h1v1h-1zM325 289h1v1h-1zM324 290h1v1h-1zM322 291h2v1h-2zM321 292h1v1h-1zM320 293h1v1h-1zM319 294h1v1h-1zM317 295h2v1h-2zM316 296h1v1h-1zM315 297h1v1h-1zM314 298h1v1h-1zM313 299h1v1h-1zM311 300h2v1h-2zM310 301h1v1h-1zM309 302h1v1h-1zM308 303h1v1h-1zM306 304h2v1h-2zM305 305h1v1h-1zM304 306h1v1h-1zM303 307h1v1h-1zM301 308h2v1h-2zM300 309h1v1h-1zM299 310h1v1h-1zM298 311h1v1h-1zM297 312h1v1h-1zM295 313h2v1h-2zM294 314h1v1h-1zM293 315h1v1h-1zM292 316h1v1h-1zM290 317h2v1h-2zM289 318h1v1h-1zM288 319h1v1h-1zM287 320h1v1h-1zM286 321h1v1h-1zM284 322h2v1h-2zM283 323h1v1h-1zM282 324h1v1h-1zM281 325h1v1h-1zM279 326h2v1h-2zM278 327h1v1h-1zM277 328h1v1h-1zM276 329h1v1h-1zM275 330h1v1h-1zM273 331h2v1h-2zM272 332h1v1h-1zM271 333h1v1h-1zM270 334h1v1h-1zM268 335h2v1h-2zM267 336h1v1h-1zM266 337h1v1h-1zM265 338h1v1h-1zM263 339h2v1h-2zM262 340h1v1h-1zM261 341h1v1h-1zM260 342h1v1h-1zM259 343h1v1h-1zM257 344h2v1h-2zM256 345h1v1h-1zM255 346h1v1h-1zM254 347h1v1h-1zM252 348h2v1h-2zM251 349h1v1h-1zM250 350h1v1h-1zM249 351h1v1h-1zM248 352h1v1h-1zM246 353h2v1h-2zM245 354h1v1h-1zM244 355h1v1h-1zM243 356h1v1h-1zM241 357h2v1h-2zM240 358h1v1h-1zM239 359h1v1h-1zM238 360h1v1h-1zM237 361h1v1h-1zM235 362h2v1h-2zM234 363h1v1h-1zM233 364h1v1h-1zM232 365h1v1h-1zM230 366h2v1h-2zM229 367h1v1h-1zM228 368h1v1h-1zM227 369h1v1h-1zM226 370h1v1h-1zM224 371h2v1h-2zM223 372h1v1h-1zM222 373h1v1h-1zM221 374h1v1h-1zM219 375h2v1h-2zM218 376h1v1h-1zM217 377h1v1h-1zM216 378h1v1h-1zM214 379h2v1h-2zM213 380h1v1h-1zM212 381h1v1h-1zM211 382h1v1h-1zM210 383h1v1h-1zM208 384h2v1h-2zM207 385h1v1h-1zM206 386h1v1h-1zM205 387h1v1h-1zM203 388h2v1h-2zM202 389h1v1h-1zM201 390h1v1h-1zM200 391h1v1h-1zM199 392h1v1h-1zM197 393h2v1h-2zM196 394h1v1h-1zM195 395h1v1h-1zM194 396h1v1h-1zM192 397h2v1h-2zM191 398h1v1h-1zM190 399h1v1h-1zM189 400h1v1h-1zM188 401h1v1h-1zM186 402h2v1h-2zM185 403h1v1h-1zM184 404h1v1h-1zM183 405h1v1h-1zM181 406h2v1h-2zM180 407h1v1h-1zM179 408h1v1h-1zM178 409h1v1h-1zM177 410h1v1h-1zM175 411h2v1h-2zM174 412h1v1h-1zM173 413h1v1h-1zM172 414h1v1h-1zM170 415h2v1h-2zM169 416h1v1h-1zM168 417h1v1h-1zM167 418h1v1h-1zM165 419h2v1h-2zM164 420h1v1h-1zM163 421h1v1h-1zM162 422h1v1h-1zM161 423h1v1h-1zM159 424h2v1h-2zM158 425h1v1h-1zM157 426h1v1h-1zM156 427h1v1h-1zM154 428h2v1h-2zM153 429h1v1h-1zM152 430h1v1h-1zM151 431h1v1h-1zM150 432h1v1h-1zM148 433h2v1h-2zM147 434h1v1h-1zM146 435h1v1h-1zM145 436h1v1h-1zM143 437h2v1h-2zM142 438h1v1h-1zM141 439h1v1h-1zM140 440h1v1h-1zM139 441h1v1h-1zM137 442h2v1h-2zM136 443h1v1h-1zM135 444h1v1h-1zM134 445h1v1h-1zM132 446h2v1h-2zM131 447h1v1h-1zM130 448h1v1h-1zM129 449h1v1h-1zM127 450h2v1h-2zM126 451h1v1h-1zM125 452h1v1h-1zM124 453h1v1h-1zM123 454h1v1h-1zM121 455h2v1h-2zM120 456h1v1h-1zM119 457h1v1h-1zM118 458h1v1h-1zM116 459h2v1h-2zM115 460h1v1h-1zM114 461h1v1h-1zM113 462h1v1h-1zM112 463h1v1h-1zM110 464h2v1h-2zM109 465h1v1h-1zM108 466h1v1h-1z"/>
<g shape-rendering="crispEdges" fill="#ff0000">
<rect x="3" y="423" width="1" height="1"/>
<rect x="5" y="425" width="1" height="1"/>
<rect x="7" y="426" width="1" height="1"/>
<rect x="9" y="428" width="1" height="1"/>
<rect x="11" y="429" width="1" height="1"/>
<rect x="13" y="431" width="1" height="1"/>
<rect x="15" y="432" width="1" height="1"/>
<rect x="17" y="434" width="1" height="1"/>
<rect x="19" y="435" width="1" height="1"/>
<rect x="21" y="437" width="1" height="1"/>
<rect x="23" y="438" width="1" height="1"/>
<rect x="25" y="440" width="1" height="1"/>
<rect x="27" y="441" width="1" height="1"/>
<rect x="29" y="443" width="1" height="1"/>
<rect x="31" y="444" width="1" height="1"/>
<rect x="33" y="446" width="1" height="1"/>
<rect x="35" y="447" width="1" height="1"/>
<rect x="37" y="449" width="1" height="1"/>
<rect x="39" y="450" width="1" height="1"/>
<rect x="41" y="452" width="1" height="1"/>
<rect x="43" y="453" width="1" height="1"/>
<rect x="45" y="455" width="1" height="1"/>
<rect x="47" y="456" width="1" height="1"/>
<rect x="49" y="458" width="1" height="1"/>
<rect x="51" y="459" width="1" height="1"/>
<rect x="53" y="461" width="1" height="1"/>
<rect x="55" y="462" width="1" height="1"/>
<rect x="57" y="464" width="1" height="1"/>
<rect x="59" y="465" width="1" height="1"/>
</g>
<g shape-rendering="crispEdges">
<rect x="0" y="0" width="4" height="12" fill="#ff9000"/>
<rect x="7" y="23" width="597" height="1" fill="#808080"/>
<rect x="256" y="132" width="348" height="2" fill="#787878"/>
<rect x="7" y="246" width="597" height="1" fill="#808080"/>
<rect x="135" y="416" width="469" height="1" fill="#808080"/>
<rect x="611" y="13" width="1" height="453" fill="#f0c020"/>
<rect x="611" y="13" width="31" height="1" fill="#f0c020"/>
<rect x="608" y="463" width="3" height="1" fill="#000"/>
<rect x="0" y="463" width="2" height="1" fill="#000"/>
<rect x="609" y="455" width="2" height="1" fill="#000"/>
<rect x="0" y="455" width="1" height="1" fill="#000"/>
<rect x="609" y="446" width="2" height="1" fill="#000"/>
<rect x="0" y="446" width="1" height="1" fill="#000"/>
<rect x="609" y="438" width="2" height="1" fill="#000"/>
<rect x="0" y="438" width="1" height="1" fill="#000"/>
<rect x="609" y="430" width="2" height="1" fill="#000"/>
<rect x="0" y="430" width="1" height="1" fill="#000"/>
<rect x="607" y="422" width="4" height="1" fill="#000"/>
<rect x="0" y="422" width="3" height="1" fill="#000"/>
<rect x="609" y="414" width="2" height="1" fill="#000"/>
<rect x="0" y="414" width="1" height="1" fill="#000"/>
<rect x="609" y="406" width="2" height="1" fill="#000"/>
<rect x="0" y="406" width="1" height="1" fill="#000"/>
<rect x="609" y="399" width="2" height="1" fill="#000"/>
<rect x="0" y="399" width="1" height="1" fill="#000"/>
<rect x="609" y="391" width="2" height="1" fill="#000"/>
<rect x="0" y="391" width="1" height="1" fill="#000"/>
<rect x="608" y="384" width="3" height="1" fill="#000"/>
<rect x="0" y="384" width="2" height="1" fill="#000"/>
<rect x="609" y="376" width="2" height="1" fill="#000"/>
<rect x="0" y="376" width="1" height="1" fill="#000"/>
<rect x="609" y="369" width="2" height="1" fill="#000"/>
<rect x="0" y="369" width="1" height="1" fill="#000"/>
<rect x="609" y="361" width="2" height="1" fill="#000"/>
<rect x="0" y="361" width="1" height="1" fill="#000"/>
<rect x="609" y="354" width="2" height="1" fill="#000"/>
<rect x="0" y="354" width="1" height="1" fill="#000"/>
<rect x="607" y="347" width="4" height="1" fill="#000"/>
<rect x="0" y="347" width="3" height="1" fill="#000"/>
<rect x="609" y="340" width="2" height="1" fill="#000"/>
<rect x="0" y="340" width="1" height="1" fill="#000"/>
<rect x="609" y="333" width="2" height="1" fill="#000"/>
<rect x="0" y="333" width="1" height="1" fill="#000"/>
<rect x="609" y="326" width="2" height="1" fill="#000"/>
<rect x="0" y="326" width="1" height="1" fill="#000"/>
<rect x="609" y="320" width="2" height="1" fill="#000"/>
<rect x="0" y="320" width="1" height="1" fill="#000"/>
<rect x="608" y="313" width="3" height="1" fill="#000"/>
<rect x="0" y="313" width="2" height="1" fill="#000"/>
<rect x="609" y="306" width="2" height="1" fill="#000"/>
<rect x="0" y="306" width="1" height="1" fill="#000"/>
<rect x="609" y="300" width="2" height="1" fill="#000"/>
<rect x="0" y="300" width="1" height="1" fill="#000"/>
<rect x="609" y="293" width="2" height="1" fill="#000"/>
<rect x="0" y="293" width="1" height="1" fill="#000"/>
<rect x="609" y="287" width="2" height="1" fill="#000"/>
<rect x="0" y="287" width="1" height="1" fill="#000"/>
<rect x="607" y="280" width="4" height="1" fill="#000"/>
<rect x="0" y="280" width="3" height="1" fill="#000"/>
<rect x="609" y="274" width="2" height="1" fill="#000"/>
<rect x="0" y="274" width="1" height="1" fill="#000"/>
<rect x="609" y="268" width="2" height="1" fill="#000"/>
<rect x="0" y="268" width="1" height="1" fill="#000"/>
<rect x="609" y="261" width="2" height="1" fill="#000"/>
<rect x="0" y="261" width="1" height="1" fill="#000"/>
<rect x="609" y="255" width="2" height="1" fill="#000"/>
<rect x="0" y="255" width="1" height="1" fill="#000"/>
<rect x="608" y="249" width="3" height="1" fill="#000"/>
<rect x="0" y="249" width="2" height="1" fill="#000"/>
<rect x="609" y="243" width="2" height="1" fill="#000"/>
<rect x="0" y="243" width="1" height="1" fill="#000"/>
<rect x="609" y="237" width="2" height="1" fill="#000"/>
<rect x="0" y="237" width="1" height="1" fill="#000"/>
<rect x="609" y="231" width="2" height="1" fill="#000"/>
<rect x="0" y="231" width="1" height="1" fill="#000"/>
<rect x="609" y="225" width="2" height="1" fill="#000"/>
<rect x="0" y="225" width="1" height="1" fill="#000"/>
<rect x="607" y="220" width="4" height="1" fill="#000"/>
<rect x="0" y="220" width="3" height="1" fill="#000"/>
<rect x="609" y="214" width="2" height="1" fill="#000"/>
<rect x="0" y="214" width="1" height="1" fill="#000"/>
<rect x="609" y="208" width="2" height="1" fill="#000"/>
<rect x="0" y="208" width="1" height="1" fill="#000"/>
<rect x="609" y="203" width="2" height="1" fill="#000"/>
<rect x="0" y="203" width="1" height="1" fill="#000"/>
<rect x="609" y="197" width="2" height="1" fill="#000"/>
<rect x="0" y="197" width="1" height="1" fill="#000"/>
<rect x="608" y="191" width="3" height="1" fill="#000"/>
<rect x="0" y="191" width="2" height="1" fill="#000"/>
<rect x="609" y="186" width="2" height="1" fill="#000"/>
<rect x="0" y="186" width="1" height="1" fill="#000"/>
<rect x="609" y="180" width="2" height="1" fill="#000"/>
<rect x="0" y="180" width="1" height="1" fill="#000"/>
<rect x="609" y="175" width="2" height="1" fill="#000"/>
<rect x="0" y="175" width="1" height="1" fill="#000"/>
<rect x="609" y="170" width="2" height="1" fill="#000"/>
<rect x="0" y="170" width="1" height="1" fill="#000"/>
<rect x="607" y="164" width="4" height="1" fill="#000"/>
<rect x="0" y="164" width="3" height="1" fill="#000"/>
<rect x="609" y="159" width="2" height="1" fill="#000"/>
<rect x="0" y="159" width="1" height="1" fill="#000"/>
<rect x="609" y="154" width="2" height="1" fill="#000"/>
<rect x="0" y="154" width="1" height="1" fill="#000"/>
<rect x="609" y="149" width="2" height="1" fill="#000"/>
<rect x="0" y="149" width="1" height="1" fill="#000"/>
<rect x="609" y="144" width="2" height="1" fill="#000"/>
<rect x="0" y="144" width="1" height="1" fill="#000"/>
<rect x="608" y="138" width="3" height="1" fill="#000"/>
<rect x="0" y="138" width="2" height="1" fill="#000"/>
<rect x="609" y="133" width="2" height="1" fill="#000"/>
<rect x="0" y="133" width="1" height="1" fill="#000"/>
<rect x="609" y="128" width="2" height="1" fill="#000"/>
<rect x="0" y="128" width="1" height="1" fill="#000"/>
<rect x="609" y="123" width="2" height="1" fill="#000"/>
<rect x="0" y="123" width="1" height="1" fill="#000"/>
<rect x="609" y="118" width="2" height="1" fill="#000"/>
<rect x="0" y="118" width="1" height="1" fill="#000"/>
<rect x="607" y="113" width="4" height="1" fill="#000"/>
<rect x="0" y="113" width="3" height="1" fill="#000"/>
<rect x="609" y="109" width="2" height="1" fill="#000"/>
<rect x="0" y="109" width="1" height="1" fill="#000"/>
<rect x="609" y="104" width="2" height="1" fill="#000"/>
<rect x="0" y="104" width="1" height="1" fill="#000"/>
<rect x="609" y="99" width="2" height="1" fill="#000"/>
<rect x="0" y="99" width="1" height="1" fill="#000"/>
<rect x="609" y="94" width="2" height="1" fill="#000"/>
<rect x="0" y="94" width="1" height="1" fill="#000"/>
<rect x="608" y="90" width="3" height="1" fill="#000"/>
<rect x="0" y="90" width="2" height="1" fill="#000"/>
<rect x="609" y="85" width="2" height="1" fill="#000"/>
<rect x="0" y="85" width="1" height="1" fill="#000"/>
<rect x="609" y="80" width="2" height="1" fill="#000"/>
<rect x="0" y="80" width="1" height="1" fill="#000"/>
<rect x="609" y="76" width="2" height="1" fill="#000"/>
<rect x="0" y="76" width="1" height="1" fill="#000"/>
<rect x="609" y="71" width="2" height="1" fill="#000"/>
<rect x="0" y="71" width="1" height="1" fill="#000"/>
<rect x="607" y="66" width="4" height="1" fill="#000"/>
<rect x="0" y="66" width="3" height="1" fill="#000"/>
<rect x="609" y="62" width="2" height="1" fill="#000"/>
<rect x="0" y="62" width="1" height="1" fill="#000"/>
<rect x="609" y="57" width="2" height="1" fill="#000"/>
<rect x="0" y="57" width="1" height="1" fill="#000"/>
<rect x="609" y="53" width="2" height="1" fill="#000"/>
<rect x="0" y="53" width="1" height="1" fill="#000"/>
<rect x="609" y="48" width="2" height="1" fill="#000"/>
<rect x="0" y="48" width="1" height="1" fill="#000"/>
<rect x="608" y="44" width="3" height="1" fill="#000"/>
<rect x="0" y="44" width="2" height="1" fill="#000"/>
<rect x="609" y="40" width="2" height="1" fill="#000"/>
<rect x="0" y="40" width="1" height="1" fill="#000"/>
<rect x="609" y="35" width="2" height="1" fill="#000"/>
<rect x="0" y="35" width="1" height="1" fill="#000"/>
<rect x="609" y="31" width="2" height="1" fill="#000"/>
<rect x="0" y="31" width="1" height="1" fill="#000"/>
<rect x="609" y="27" width="2" height="1" fill="#000"/>
<rect x="0" y="27" width="1" height="1" fill="#000"/>
<rect x="607" y="23" width="4" height="1" fill="#000"/>
<rect x="0" y="23" width="3" height="1" fill="#000"/>
<rect x="609" y="18" width="2" height="1" fill="#000"/>
<rect x="0" y="18" width="1" height="1" fill="#000"/>
<rect x="609" y="14" width="2" height="1" fill="#000"/>
<rect x="0" y="14" width="1" height="1" fill="#000"/>
<rect x="0" y="467" width="642" height="1" fill="#000"/>
<rect x="0" y="470" width="610" height="1" fill="#000"/>
<rect x="611" y="466" width="31" height="1" fill="#0020c0"/>
<rect x="611" y="468" width="31" height="18" fill="#eeeeee"/>
<rect x="610" y="467" width="1" height="19" fill="#000"/>
<rect x="78" y="469" width="1" height="1" fill="#000"/>
<rect x="144" y="469" width="1" height="1" fill="#000"/>
<rect x="213" y="469" width="1" height="1" fill="#000"/>
<rect x="276" y="469" width="1" height="1" fill="#000"/>
<rect x="342" y="469" width="1" height="1" fill="#000"/>
<rect x="408" y="469" width="1" height="1" fill="#000"/>
<rect x="471" y="469" width="1" height="1" fill="#000"/>
<rect x="540" y="469" width="1" height="1" fill="#000"/>
<rect x="630" y="0" width="12" height="2" fill="#ececec"/><rect x="630" y="2" width="12" height="1" fill="#dcdcdc"/><rect x="630" y="3" width="12" height="1" fill="#b4b4b4"/><rect x="629" y="4" width="13" height="1" fill="#6c6c6c"/>
<rect x="613" y="128" width="29" height="13" fill="#000"/>
</g>
<line x1="620.2" y1="483.8" x2="632.6" y2="471" stroke="#000" stroke-width="1"/>
<path d="M627.6,476.6 L631.4,474.1 L633.3,474.8 L632.9,477.4 L636,478.5 L634.5,481 L632,482.5 L629.5,481 L630.1,479.1 Z" fill="#0000f8" stroke="#000090" stroke-width="0.7"/>
<text x="6" y="10" fill="#000" style="font-size:12.2px" textLength="173" lengthAdjust="spacingAndGlyphs">THYSSENKRUPP AG O.N. C: 25,18</text>
<text x="183" y="10" fill="#0000ff" style="font-size:12.2px" textLength="60" lengthAdjust="spacingAndGlyphs">MovE=23,65</text>
<text x="247" y="10" fill="#ff0000" style="font-size:12.2px" textLength="60" lengthAdjust="spacingAndGlyphs">MovE=21,84</text>
<text x="614" y="27.8" fill="#000" style="font-size:12.2px" textLength="26.6" lengthAdjust="spacingAndGlyphs">30,00</text>
<text x="614" y="70.8" fill="#000" style="font-size:12.2px" textLength="26.6" lengthAdjust="spacingAndGlyphs">28,00</text>
<text x="614" y="117.8" fill="#000" style="font-size:12.2px" textLength="26.6" lengthAdjust="spacingAndGlyphs">26,00</text>
<text x="614" y="168.8" fill="#000" style="font-size:12.2px" textLength="26.6" lengthAdjust="spacingAndGlyphs">24,00</text>
<text x="614" y="224.8" fill="#000" style="font-size:12.2px" textLength="26.6" lengthAdjust="spacingAndGlyphs">22,00</text>
<text x="614" y="284.8" fill="#000" style="font-size:12.2px" textLength="26.6" lengthAdjust="spacingAndGlyphs">20,00</text>
<text x="614" y="351.8" fill="#000" style="font-size:12.2px" textLength="26.6" lengthAdjust="spacingAndGlyphs">18,00</text>
<text x="614" y="426.8" fill="#000" style="font-size:12.2px" textLength="26.6" lengthAdjust="spacingAndGlyphs">16,00</text>
<text x="614" y="139.1" fill="#fff" style="font-size:12.2px" textLength="26.6" lengthAdjust="spacingAndGlyphs">25,18</text>
<text x="68" y="483.1" fill="#000" style="font-size:12px" textLength="19.4" lengthAdjust="spacingAndGlyphs">Jun</text>
<text x="136.2" y="483.1" fill="#000" style="font-size:12px" textLength="16" lengthAdjust="spacingAndGlyphs">Jul</text>
<text x="203.2" y="483.1" fill="#000" style="font-size:12px" textLength="20.4" lengthAdjust="spacingAndGlyphs">Aug</text>
<text x="265.3" y="483.1" fill="#000" style="font-size:12px" textLength="21.4" lengthAdjust="spacingAndGlyphs">Sep</text>
<text x="333.2" y="483.1" fill="#000" style="font-size:12px" textLength="18.2" lengthAdjust="spacingAndGlyphs">Okt</text>
<text x="398.4" y="483.1" fill="#000" style="font-size:12px" textLength="21" lengthAdjust="spacingAndGlyphs">Nov</text>
<text x="460.6" y="483.1" fill="#000" style="font-size:12px" textLength="21.4" lengthAdjust="spacingAndGlyphs">Dez</text>
<text x="-1" y="483.1" fill="#000" style="font-size:12px" font-weight="bold" textLength="20" lengthAdjust="spacingAndGlyphs">'09</text>
<text x="530.5" y="483.1" fill="#000" style="font-size:12px" font-weight="bold" textLength="19.7" lengthAdjust="spacingAndGlyphs">'10</text>
<text x="46.4" y="234" fill="#808080" stroke="#808080" stroke-width="0.35" style="font-size:14.2px" textLength="32.9" lengthAdjust="spacingAndGlyphs">20,97</text>
<text x="256.4" y="117.8" fill="#808080" stroke="#808080" stroke-width="0.35" style="font-size:14.2px" textLength="32.9" lengthAdjust="spacingAndGlyphs">25,21</text>
<text x="229.6" y="445" fill="#808080" stroke="#808080" stroke-width="0.35" style="font-size:14.2px" textLength="32.9" lengthAdjust="spacingAndGlyphs">16,12</text>
<text x="358" y="35" fill="#909090" style="font-size:11px" textLength="27" lengthAdjust="spacingAndGlyphs">29,98</text>
<polyline shape-rendering="crispEdges" fill="none" stroke="#a8a890" stroke-width="3" stroke-linejoin="round" points="450,125 464.5,125 485,22 491,35"/>
<polyline shape-rendering="crispEdges" fill="none" stroke="#a8a890" stroke-width="3" stroke-linejoin="round" points="456,183 467,183 473.5,245 480,233"/>
</svg></body></html>
